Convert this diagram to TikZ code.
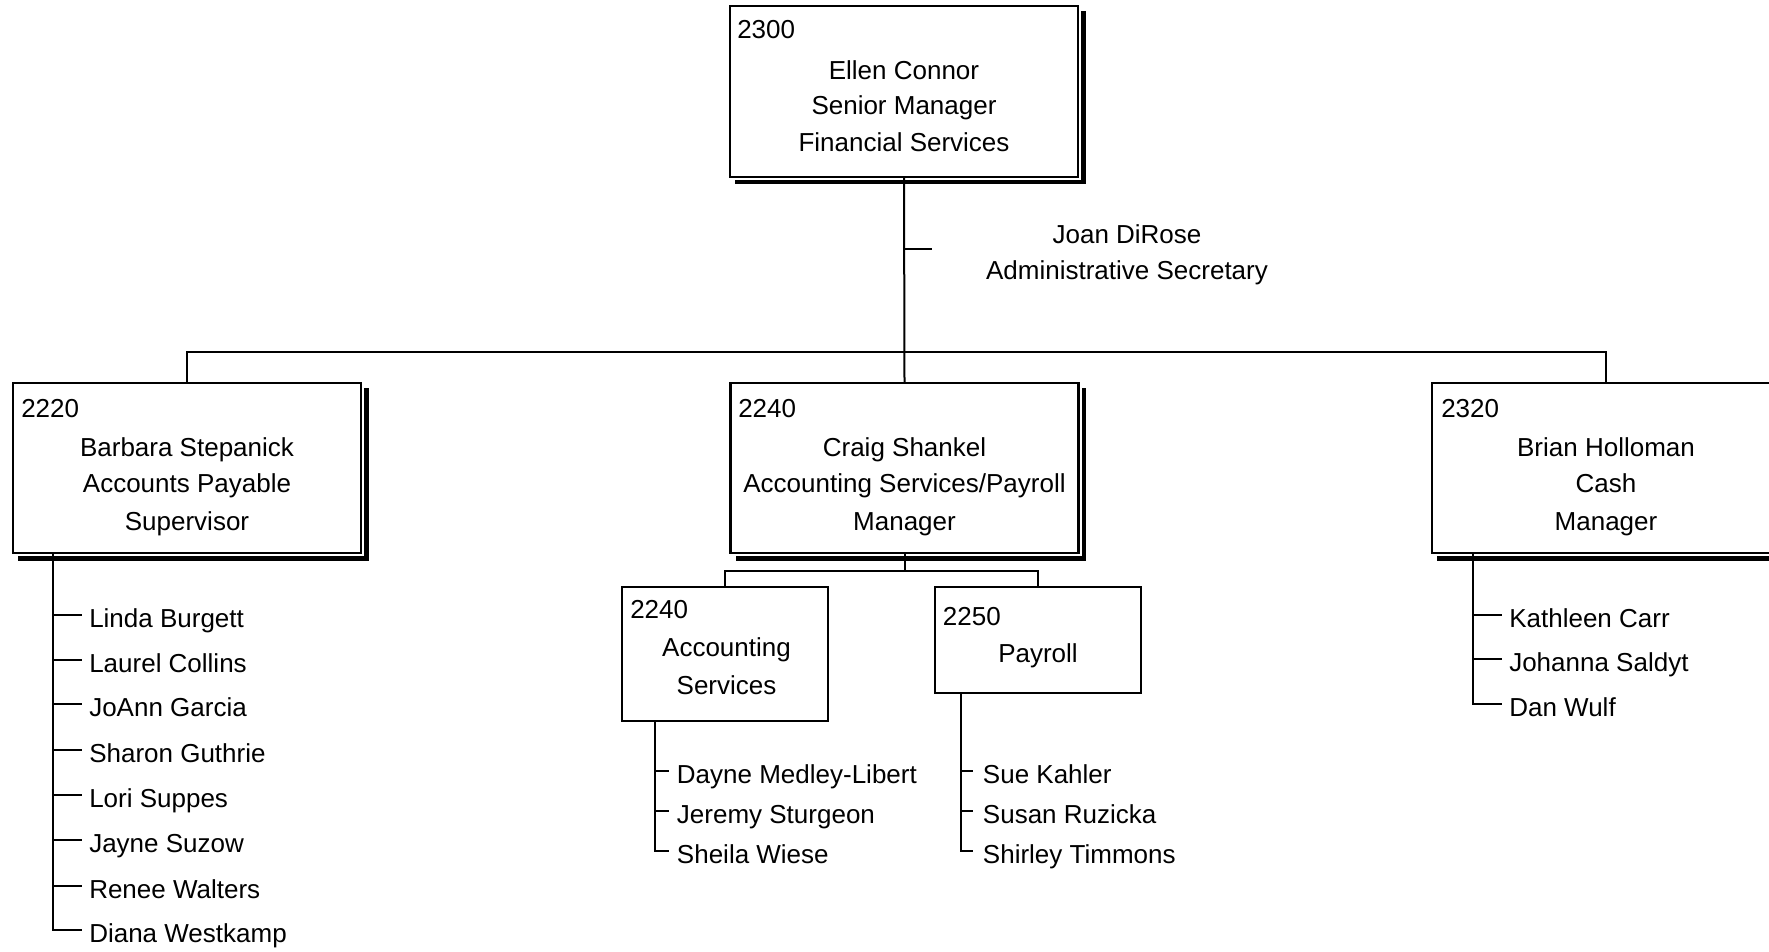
\documentclass[tikz,border=0pt]{standalone}
\usepackage{fontspec}
\setmainfont{Liberation Sans}
\usetikzlibrary{calc,backgrounds}
\begin{document}
\begin{tikzpicture}[x=0.75pt,y=-0.75pt,
  box/.style={draw=black, fill=white, line width=1.6pt, inner sep=0pt, outer sep=0pt, rectangle},
  bigbox/.style={box, minimum width=261pt, minimum height=127.5pt, preaction={draw=white, line width=4.5pt}},
  txt/.style={inner sep=0pt, font=\fontsize{19.5}{23}\selectfont},
  item/.style={txt, anchor=west, text height=18.75pt, text depth=0pt},
  conn/.style={line width=1.5pt}
]
\useasboundingbox (0,0) rectangle (1769,952);

% ---- boxes
\node[bigbox, minimum height=128.25pt] (top) at (904,91.5) {};
\node[bigbox] (left)  at (187,468) {};
\node[bigbox] (mid)   at (904.5,468) {};
\node[bigbox] (right) at (1606,468) {};
\node[box, minimum width=154pt, minimum height=100.5pt] (acct) at (725,653.7) {};
\node[box, minimum width=154.5pt, minimum height=79.5pt] (pay) at (1038,639.7) {};

\begin{scope}[on background layer]
  \foreach \b in {top,left,mid,right}
    \fill[black] ($(\b.north west)+(5,5)$) rectangle ($(\b.south east)+(7.5,7.5)$);
\end{scope}

% ---- box texts
\node[txt, anchor=base west] (topn) at (737,39) {2300};
\node[txt, anchor=base] (top1) at (904,80) {Ellen Connor};
\node[txt, anchor=base] (top2) at (904,115) {Senior Manager};
\node[txt, anchor=base] (top3) at (904,152) {Financial Services};

\node[txt, anchor=base west] (leftn) at (21,417) {2220};
\node[txt, anchor=base] (left1) at (187,456) {Barbara Stepanick};
\node[txt, anchor=base] (left2) at (187,492) {Accounts Payable};
\node[txt, anchor=base] (left3) at (187,530) {Supervisor};

\node[txt, anchor=base west] (midn) at (738,417) {2240};
\node[txt, anchor=base] (mid1) at (904.5,456) {Craig Shankel};
\node[txt, anchor=base] (mid2) at (904.5,492) {Accounting Services/Payroll};
\node[txt, anchor=base] (mid3) at (904.5,530) {Manager};

\node[txt, anchor=base west] (rightn) at (1441,417) {2320};
\node[txt, anchor=base] (right1) at (1606,456) {Brian Holloman};
\node[txt, anchor=base] (right2) at (1606,492) {Cash};
\node[txt, anchor=base] (right3) at (1606,530) {Manager};

\node[txt, anchor=base west] (acctn) at (630,618.3) {2240};
\node[txt, anchor=base] (acct1) at (726.5,656.7) {Accounting};
\node[txt, anchor=base] (acct2) at (726.5,694) {Services};

\node[txt, anchor=base west] (payn) at (942.7,625) {2250};
\node[txt, anchor=base] (pay1) at (1038,662.7) {Payroll};

% ---- secretary
\node[txt, anchor=base] (sec1) at (1127,243.3) {Joan DiRose};
\node[txt, anchor=base] (sec2) at (1127,279.3) {Administrative Secretary};

% ---- main connectors
\coordinate (bus) at (904,352);
\coordinate (sect) at (904,249.3);
\coordinate (secend) at (932,249.3);
\draw[conn] (top.south) -- (mid.north);
\draw[conn] (sect) -- (secend);
\draw[conn] (left.north) |- (bus) -| (right.north);

\coordinate (subbus) at (904.5,571);
\draw[conn] (mid.south) -- (subbus);
\draw[conn] (acct.north) |- (subbus) -| (pay.north);

% ---- lists
\foreach \y/\t [count=\i] in {615/Linda Burgett, 659.5/Laurel Collins, 704/JoAnn Garcia,
  750/Sharon Guthrie, 795/Lori Suppes, 840/Jayne Suzow, 886/Renee Walters, 930/Diana Westkamp}
  \node[item] (L\i) at (89,\y) {\t};
\coordinate (ls) at (53,553);
\draw[conn, shorten >=5.25pt] (ls) |- (L8.west);
\foreach \i in {1,...,7}
  \draw[conn, shorten >=5.25pt] (ls |- L\i.west) -- (L\i.west);

\foreach \y/\t [count=\i] in {770.7/Dayne Medley-Libert, 810.7/Jeremy Sturgeon, 850.7/Sheila Wiese}
  \node[item] (A\i) at (676.7,\y) {\t};
\coordinate (as) at (655,720.7);
\draw[conn, shorten >=6.1pt] (as) |- (A3.west);
\foreach \i in {1,2}
  \draw[conn, shorten >=6.1pt] (as |- A\i.west) -- (A\i.west);

\foreach \y/\t [count=\i] in {770.7/Sue Kahler, 810.7/Susan Ruzicka, 850.7/Shirley Timmons}
  \node[item] (P\i) at (982.7,\y) {\t};
\coordinate (ps) at (960.7,692.7);
\draw[conn, shorten >=7pt] (ps) |- (P3.west);
\foreach \i in {1,2}
  \draw[conn, shorten >=7pt] (ps |- P\i.west) -- (P\i.west);

\foreach \y/\t [count=\i] in {615/Kathleen Carr, 659/Johanna Saldyt, 704/Dan Wulf}
  \node[item] (R\i) at (1509,\y) {\t};
\coordinate (rs) at (1473,553);
\draw[conn, shorten >=5.25pt] (rs) |- (R3.west);
\foreach \i in {1,2}
  \draw[conn, shorten >=5.25pt] (rs |- R\i.west) -- (R\i.west);

\end{tikzpicture}
\end{document}
